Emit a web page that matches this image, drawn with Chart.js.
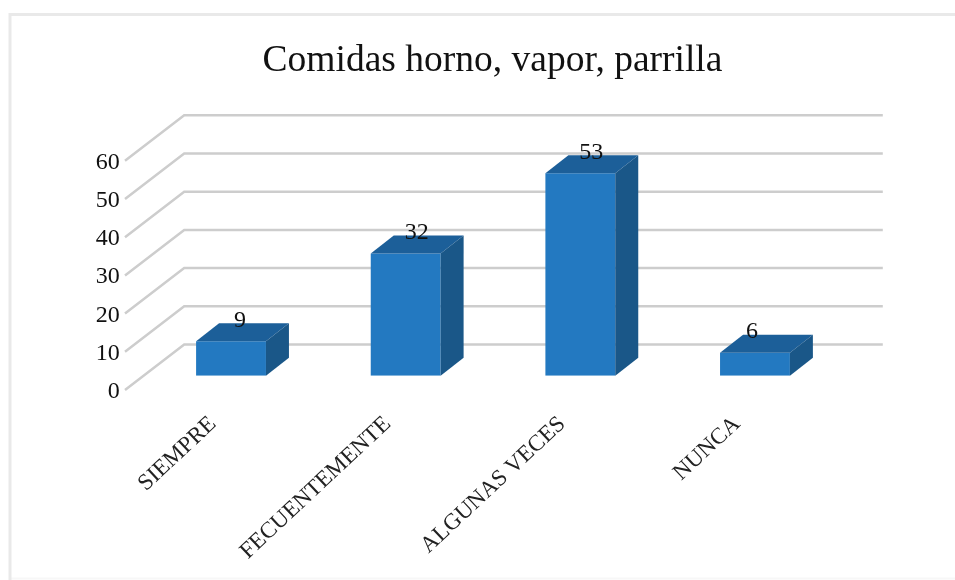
<!DOCTYPE html>
<html>
<head>
<meta charset="utf-8">
<title>Comidas horno, vapor, parrilla</title>
<script src="https://cdn.jsdelivr.net/npm/chart.js@4"></script>
<style>
    html, body { margin: 0; padding: 0; background: #fff; }
    canvas { display: block; }
</style>
</head>
<body>
<canvas id="myChart" width="955" height="580"></canvas>
<script>
const categories = ['SIEMPRE', 'FECUENTEMENTE', 'ALGUNAS VECES', 'NUNCA'];
const values = [9, 32, 53, 6];
const yTicks = [0, 10, 20, 30, 40, 50, 60];

const serif = '"Liberation Serif", serif';

// how far the floor runs in front of and behind the plane of the bars
const front = { dx: -18.7, dy: 14.3 };
const back = { dx: 40.5, dy: -31.2 };
// bar depth
const depth = { dx: 23, dy: 18 };
// value labels sit off to one side of the bar, not all the same way
const labelShift = [9, 11, 11, -3];

const framePlugin = {
    id: 'frame',
    beforeDraw(chart) {
        const ctx = chart.ctx;
        ctx.save();
        ctx.strokeStyle = '#f7f7f7';
        ctx.lineWidth = 2;
        ctx.beginPath();
        ctx.moveTo(10, 578.5);
        ctx.lineTo(955, 578.5);
        ctx.stroke();
        ctx.strokeStyle = '#e9e9e9';
        ctx.lineWidth = 3;
        ctx.beginPath();
        ctx.moveTo(10, 580);
        ctx.lineTo(10, 14.5);
        ctx.lineTo(955, 14.5);
        ctx.stroke();
        ctx.restore();
    }
};

// back wall lines plus the slanted piece on the left
const gridPlugin = {
    id: 'grid3d',
    beforeDatasetsDraw(chart) {
        const ctx = chart.ctx;
        const y = chart.scales.y;
        const left = chart.chartArea.left;
        const right = chart.chartArea.right;
        ctx.save();
        ctx.strokeStyle = '#cdcdcd';
        ctx.lineWidth = 2.5;
        yTicks.forEach(t => {
            const py = y.getPixelForValue(t);
            ctx.beginPath();
            ctx.moveTo(left + front.dx, py + front.dy);
            ctx.lineTo(left + back.dx, py + back.dy);
            ctx.lineTo(right + back.dx, py + back.dy);
            ctx.stroke();
        });
        ctx.restore();
    }
};

// top and side faces of each bar, then the value label
const barFacesPlugin = {
    id: 'barFaces',
    afterDatasetsDraw(chart) {
        const ctx = chart.ctx;
        const bars = chart.getDatasetMeta(0).data;
        ctx.save();
        bars.forEach((bar, i) => {
            const l = bar.x - bar.width / 2;
            const r = bar.x + bar.width / 2;
            const t = bar.y;
            const b = bar.base;

            ctx.fillStyle = '#1c5f99';
            ctx.beginPath();
            ctx.moveTo(l, t);
            ctx.lineTo(l + depth.dx, t - depth.dy);
            ctx.lineTo(r + depth.dx, t - depth.dy);
            ctx.lineTo(r, t);
            ctx.closePath();
            ctx.fill();

            ctx.fillStyle = '#1a5788';
            ctx.beginPath();
            ctx.moveTo(r, t);
            ctx.lineTo(r + depth.dx, t - depth.dy);
            ctx.lineTo(r + depth.dx, b - depth.dy);
            ctx.lineTo(r, b);
            ctx.closePath();
            ctx.fill();

            ctx.fillStyle = '#111';
            ctx.font = '24px ' + serif;
            ctx.textAlign = 'center';
            ctx.textBaseline = 'middle';
            ctx.fillText(values[i], bar.x + labelShift[i], t - 21);
        });
        ctx.restore();
    }
};

const data1 = {
    labels: categories,
    datasets: [{
        data: values,
        backgroundColor: '#2379c1',
        borderWidth: 0,
        barPercentage: 0.4,
        categoryPercentage: 1
    }]
};

const config1 = {
    type: 'bar',
    data: data1,
    plugins: [framePlugin, gridPlugin, barFacesPlugin],
    options: {
        responsive: false,
        animation: false,
        layout: { padding: { left: 30, right: 0, top: 0, bottom: 0 } },
        plugins: {
            legend: { display: false },
            tooltip: { enabled: false },
            title: {
                display: true,
                text: 'Comidas horno, vapor, parrilla',
                color: '#111',
                font: { family: serif, size: 37.5, weight: 'normal', lineHeight: 1.2 },
                padding: { top: 38.5, bottom: 63 }
            }
        },
        scales: {
            x: {
                grid: { display: false },
                border: { display: false },
                afterFit(scale) { scale.height = 204.3; },
                ticks: {
                    autoSkip: false,
                    minRotation: 43,
                    maxRotation: 43,
                    padding: 27,
                    labelOffset: -18,
                    color: '#222',
                    font: { family: serif, size: 23 }
                }
            },
            y: {
                min: 0,
                max: 60,
                grid: { display: false },
                border: { display: false },
                afterFit(scale) { scale.width = 113.7; },
                afterBuildTicks(scale) { scale.ticks = yTicks.map(v => ({ value: v })); },
                ticks: {
                    padding: 16,
                    labelOffset: 16,
                    color: '#111',
                    font: { family: serif, size: 24 }
                }
            },
            // empty axis, keeps the plot clear of the right side while the title spans the full width
            spacer: {
                type: 'linear',
                position: 'right',
                grid: { display: false },
                border: { display: false },
                ticks: { display: false },
                afterFit(scale) { scale.width = 112.7; }
            }
        }
    }
};

const myChart = new Chart(document.getElementById('myChart'), config1);
</script>
</body>
</html>
